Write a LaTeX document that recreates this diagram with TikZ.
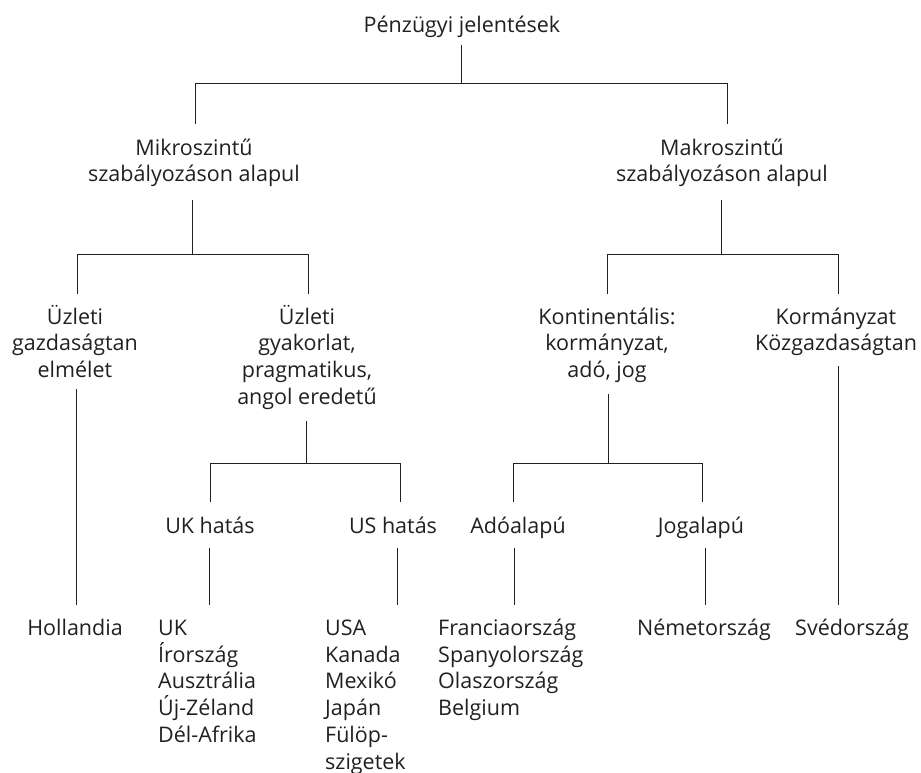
\documentclass[tikz,border=0pt]{standalone}
\usepackage{fontspec}
\setmainfont{Open Sans}
\usetikzlibrary{calc}
\definecolor{ink}{RGB}{35,31,32}
\begin{document}
\begin{tikzpicture}[x=1pt,y=-1pt,
  lbl/.style={font=\fontsize{21.5}{26.7}\selectfont, align=center, inner sep=0pt, anchor=base, text=ink},
  lst/.style={lbl, align=left, anchor=base west},
  conn/.style={draw=ink, line width=1pt}]
\useasboundingbox (0,0) rectangle (921,773);
% nodes (anchored at the baseline of their last line)
\node[lbl] (root) at (462,33) {Pénzügyi jelentések};
\node[lbl] (mikro) at (194,181.7) {Mikroszintű\\szabályozáson alapul};
\node[lbl] (makro) at (722,181.7) {Makroszintű\\szabályozáson alapul};
\node[lbl] (uzg) at (75,377.4) {Üzleti\\gazdaságtan\\elmélet};
\node[lbl] (uzp) at (307,404.1) {Üzleti\\gyakorlat,\\pragmatikus,\\angol eredetű};
\node[lbl] (kont) at (607,377.4) {Kontinentális:\\kormányzat,\\adó, jog};
\node[lbl] (korm) at (836,350.7) {Kormányzat\\Közgazdaságtan};
\node[lbl] (ukh) at (210,533) {UK hatás};
\node[lbl] (ush) at (393,533) {US hatás};
\node[lbl] (ado) at (518,533) {Adóalapú};
\node[lbl] (jog) at (701,533) {Jogalapú};
\node[lbl] (hol) at (75,635.5) {Hollandia};
\node[lst] (ukl) at (158,742.3) {UK\\Írország\\Ausztrália\\Új-Zéland\\Dél-Afrika};
\node[lst] (usl) at (325,769) {USA\\Kanada\\Mexikó\\Japán\\Fülöp-\\szigetek};
\node[lst] (frl) at (438,715.6) {Franciaország\\Spanyolország\\Olaszország\\Belgium};
\node[lbl] (nem) at (704,635.5) {Németország};
\node[lbl] (sve) at (852,635.5) {Svédország};
% junction coordinates
\coordinate (j1) at (461,84);  \coordinate (j1l) at (195,84);  \coordinate (j1r) at (727,84);
\coordinate (j2) at (192,254); \coordinate (j2l) at (77,254);  \coordinate (j2r) at (308,254);
\coordinate (j3) at (721,254); \coordinate (j3l) at (607,254); \coordinate (j3r) at (838,254);
\coordinate (j4) at (306,463); \coordinate (j4l) at (210,463); \coordinate (j4r) at (400,463);
\coordinate (j5) at (608,463); \coordinate (j5l) at (513,463); \coordinate (j5r) at (702,463);
% connectors
\draw[conn] ($(j1 |- root.base)+(0,12)$) -- (j1);
\draw[conn] ($(j1l |- mikro.base)+(0,-57.7)$) -- (j1l) -- (j1r) -- ($(j1r |- makro.base)+(0,-57.7)$);
\draw[conn] ($(j2 |- mikro.base)+(0,18.3)$) -- (j2);
\draw[conn] ($(j2l |- uzg.base)+(0,-83.4)$) -- (j2l) -- (j2r) -- ($(j2r |- uzp.base)+(0,-110.1)$);
\draw[conn] ($(j3 |- makro.base)+(0,18.3)$) -- (j3);
\draw[conn] ($(j3l |- kont.base)+(0,-83.4)$) -- (j3l) -- (j3r) -- ($(j3r |- korm.base)+(0,-56.7)$);
\draw[conn] ($(j4 |- uzp.base)+(0,16.9)$) -- (j4);
\draw[conn] ($(j4l |- ukh.base)+(0,-31)$) -- (j4l) -- (j4r) -- ($(j4r |- ush.base)+(0,-31)$);
\draw[conn] ($(j5 |- kont.base)+(0,16.6)$) -- (j5);
\draw[conn] ($(j5l |- ado.base)+(0,-31)$) -- (j5l) -- (j5r) -- ($(j5r |- jog.base)+(0,-31)$);
\draw[conn] ($(uzg.base)+(1,11.6)$) -- ($(uzg.base |- hol.base)+(1,-30.5)$);
\draw[conn] ($(korm.base)+(2,15.3)$) -- ($(korm.base |- sve.base)+(2,-30.5)$);
\draw[conn] ($(ukh.base)+(-1,15)$) -- ($(ukh.base |- ukl.base)+(-1,-137.3)$);
\draw[conn] ($(ush.base)+(4,15)$) -- ($(ush.base |- usl.base)+(4,-164)$);
\draw[conn] ($(ado.base)+(-4,15)$) -- ($(ado.base |- frl.base)+(-4,-110.6)$);
\draw[conn] ($(jog.base)+(4,15)$) -- ($(jog.base |- nem.base)+(4,-30.5)$);
\end{tikzpicture}
\end{document}
